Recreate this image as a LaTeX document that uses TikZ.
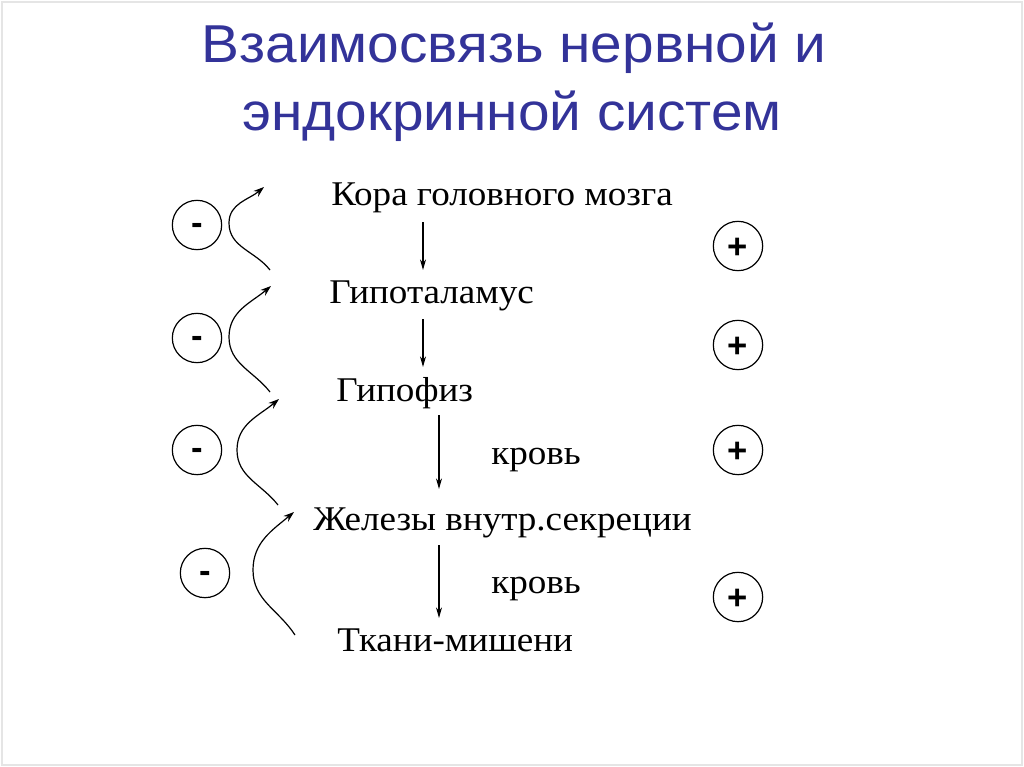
\documentclass[tikz,border=0pt]{standalone}
\usepackage{fontspec}
\setmainfont{Liberation Serif}[FakeStretch=1.07]
\newfontfamily\titlefont{Liberation Sans}[FakeStretch=1.065]
\newfontfamily\signfont{Liberation Sans}
\usetikzlibrary{arrows.meta}
\definecolor{titleblue}{HTML}{333399}
\begin{document}
\begin{tikzpicture}[x=0.75pt,y=-0.75pt,
  lbl/.style={anchor=base west,inner sep=0pt,font=\fontsize{26}{30}\selectfont},
  ttl/.style={anchor=base,inner sep=0pt,text=titleblue,font=\titlefont\fontsize{40}{46}\selectfont},
  sign/.style={circle,draw,line width=0.9pt,minimum size=37pt,inner sep=0pt,font=\signfont\bfseries\fontsize{26}{28}\selectfont},
  down/.style={line width=0.8pt,-{Stealth[length=8pt,width=4.5pt]}},
  fb/.style={line width=0.9pt,-{Stealth[length=8pt,width=5.5pt]}}]
\useasboundingbox (0,0) rectangle (1024,767);
\draw[black!10,line width=0.8pt] (2,2) rectangle (1022,765);
% title
\node[ttl] (t1) at (514,63) {Взаимосвязь нервной и};
\node[ttl] (t2) at (512,130) {эндокринной систем};
% labels
\node[lbl] (kora) at (331,205) {Кора головного мозга};
\node[lbl] (gipot) at (329,303) {Гипоталамус};
\node[lbl] (gipof) at (336,401) {Гипофиз};
\node[lbl] (krov1) at (491,464) {кровь};
\node[lbl] (zhel) at (313,530) {Железы внутр.секреции};
\node[lbl] (krov2) at (491,593) {кровь};
\node[lbl] (tkani) at (337,651) {Ткани-мишени};
% vertical arrows
\coordinate (a1s) at (423,222); \coordinate (a1e) at (423,270);
\coordinate (a2s) at (423,319); \coordinate (a2e) at (423,367);
\coordinate (a3s) at (439,415); \coordinate (a3e) at (439,489);
\coordinate (a4s) at (439,545); \coordinate (a4e) at (439,618);
\draw[down] (a1s) -- (a1e);
\draw[down] (a2s) -- (a2e);
\draw[down] (a3s) -- (a3e);
\draw[down] (a4s) -- (a4e);
% minus circles
\node[sign] (m1) at (197,225) {\raisebox{-0.27em}[0pt][0pt]{-}};
\node[sign] (m2) at (197,338) {\raisebox{-0.27em}[0pt][0pt]{-}};
\node[sign] (m3) at (197,450) {\raisebox{-0.27em}[0pt][0pt]{-}};
\node[sign] (m4) at (205,573) {\raisebox{-0.27em}[0pt][0pt]{-}};
% plus circles
\node[sign] (p1) at (738,246) {\raisebox{-0.36em}[0pt][0pt]{+}};
\node[sign] (p2) at (738,345) {\raisebox{-0.36em}[0pt][0pt]{+}};
\node[sign] (p3) at (738,450) {\raisebox{-0.36em}[0pt][0pt]{+}};
\node[sign] (p4) at (738,597) {\raisebox{-0.36em}[0pt][0pt]{+}};
% feedback curves
\coordinate (c1s) at (270,270); \coordinate (c1m) at (229,223); \coordinate (c1e) at (264,187);
\coordinate (c2s) at (270,392); \coordinate (c2m) at (229,337); \coordinate (c2e) at (271,286);
\coordinate (c3s) at (278,505); \coordinate (c3m) at (237,450); \coordinate (c3e) at (279,399);
\coordinate (c4s) at (295,635); \coordinate (c4m) at (253,570); \coordinate (c4e) at (294,512);
\draw[fb] (c1s) to[out=128,in=-90] (c1m) to[out=90,in=-140] (c1e);
\draw[fb] (c2s) to[out=128,in=-90] (c2m) to[out=90,in=-140] (c2e);
\draw[fb] (c3s) to[out=128,in=-90] (c3m) to[out=90,in=-140] (c3e);
\draw[fb] (c4s) to[out=123,in=-90] (c4m) to[out=90,in=-140] (c4e);
\end{tikzpicture}
\end{document}
